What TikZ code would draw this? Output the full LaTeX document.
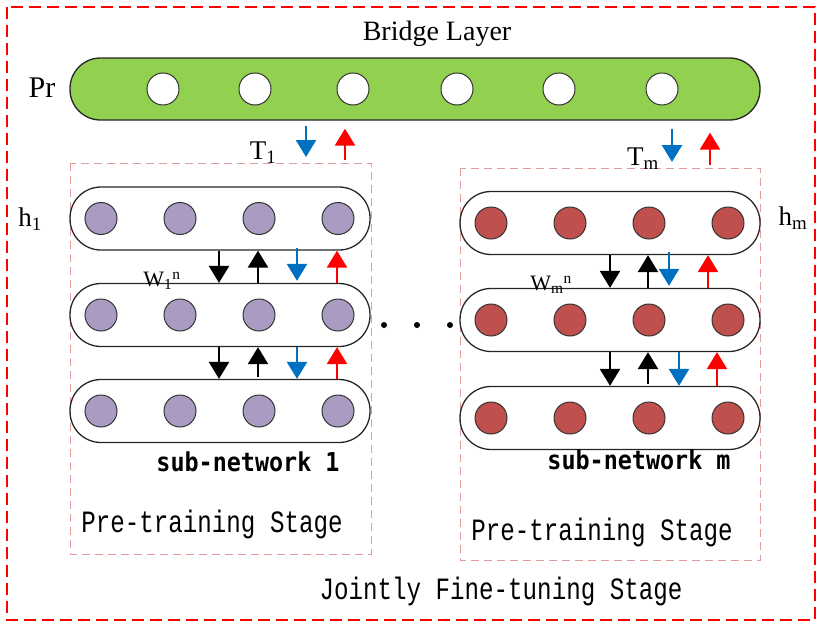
\documentclass[tikz,border=0pt]{standalone}
\usepackage{fontspec}
\setmainfont{Liberation Serif}
\newfontfamily\stagefont[FakeStretch=0.78]{Liberation Mono}
\newfontfamily\subnetfont[FakeStretch=0.9]{DejaVu Sans Mono}
\usetikzlibrary{arrows.meta,calc}
\definecolor{bridgegreen}{HTML}{92D050}
\definecolor{unitpurple}{HTML}{AA9BC2}
\definecolor{unitred}{HTML}{C0504D}
\definecolor{downblue}{HTML}{0070C0}
\definecolor{upred}{HTML}{FF0000}
\definecolor{stagepink}{HTML}{E39A9A}
\tikzset{
  capsule/.style={draw=black!85, line width=1.3pt, rounded corners=31pt,
    minimum width=300pt, minimum height=63pt, inner sep=0pt},
  bridgebar/.style={draw=black!85, line width=1.3pt, fill=bridgegreen,
    rounded corners=30.5pt, minimum width=690pt, minimum height=62pt, inner sep=0pt},
  unit/.style={circle, draw=black!80, line width=1pt, minimum size=32pt, inner sep=0pt},
  punit/.style={unit, fill=unitpurple},
  runit/.style={unit, fill=unitred},
  wunit/.style={unit, fill=white},
  arr/.style={line width=2.5pt, -{Triangle[width=20pt,length=17pt]}},
  blackarr/.style={arr, draw=black},
  bluearr/.style={arr, draw=downblue},
  redarr/.style={arr, draw=upred},
  stagebox/.style={draw=stagepink, line width=1pt, dash pattern=on 8pt off 5pt},
  outerbox/.style={draw=upred, line width=1.6pt, dash pattern=on 12pt off 6pt},
  lbl/.style={inner sep=0pt, font=\fontsize{27}{29}\selectfont},
  smalllbl/.style={inner sep=0pt, font=\fontsize{22}{24}\selectfont},
  stagetxt/.style={inner sep=0pt, font=\stagefont\fontsize{31}{33}\selectfont},
  subnettxt/.style={inner sep=0pt, font=\subnetfont\bfseries\fontsize{26}{28}\selectfont},
  dot/.style={circle, fill=black, minimum size=6pt, inner sep=0pt}
}
\begin{document}
\begin{tikzpicture}[x=1pt, y=-1pt]
\useasboundingbox (0,0) rectangle (819,624);

% outer jointly fine-tuning frame
\draw[outerbox] (7,7) rectangle (815,620);

% bridge layer
\node[inner sep=0pt, font=\fontsize{28}{30}\selectfont] (bridgetitle) at (437,34) {Bridge Layer};
\node[bridgebar] (B) at (415,89) {};
\node[inner sep=0pt, font=\fontsize{30}{32}\selectfont] (pr) at (42,88) {Pr};
\foreach \x [count=\i] in {163,255,353,457,559,662}
  \node[wunit] (b\i) at (\x,89) {};

% pre-training stage frames
\draw[stagebox] (70,163) rectangle (371,554);
\draw[stagebox] (460,168) rectangle (760,560);

% sub-network 1
\node[capsule] (L1) at (220,218.5) {};
\node[capsule] (L2) at (220,315) {};
\node[capsule] (L3) at (220,411) {};
\foreach \r/\y in {1/218.5,2/315,3/411}
  \foreach \x [count=\i] in {101,180,259,338}
    \node[punit] (L\r c\i) at (\x,\y) {};

% sub-network m
\node[capsule] (R1) at (610,223) {};
\node[capsule] (R2) at (610,320) {};
\node[capsule] (R3) at (610,418) {};
\foreach \r/\y in {1/223,2/320,3/418}
  \foreach \x [count=\i] in {491,570,649,728}
    \node[runit] (R\r c\i) at (\x,\y) {};

% columns of the arrows
\coordinate (ta) at (306,0);
\coordinate (tb) at (345,0);
\coordinate (tc) at (672,0);
\coordinate (td) at (710,0);
\coordinate (la) at (219,0);
\coordinate (lb) at (258,0);
\coordinate (lc) at (297,0);
\coordinate (ld) at (337,0);
\coordinate (ra) at (610,0);
\coordinate (rb) at (648,0);
\coordinate (rc) at (669,0);
\coordinate (rd) at (708,0);
\coordinate (re) at (679,0);
\coordinate (rf) at (717,0);
% levels where the bridge arrows end
\coordinate (lvA) at (0,157);
\coordinate (lvB) at (0,160);
\coordinate (lvC) at (0,162);
\coordinate (lvD) at (0,165);

% bridge <-> sub-networks
\draw[bluearr] ([yshift=-5pt]B.south -| ta) -- (ta |- lvA);
\draw[redarr] (tb |- lvB) -- ([yshift=-8pt]B.south -| tb);
\draw[bluearr] ([yshift=-8pt]B.south -| tc) -- (tc |- lvC);
\draw[redarr] (td |- lvD) -- ([yshift=-12pt]B.south -| td);

% inside sub-network 1
\draw[blackarr] (la |- L1.south) -- (la |- L2.north);
\draw[blackarr] (lb |- L2.north) -- (lb |- L1.south);
\draw[bluearr] ([yshift=3pt]lc |- L1.south) -- ([yshift=2pt]lc |- L2.north);
\draw[redarr] (ld |- L2.north) -- (ld |- L1.south);
\draw[blackarr] (la |- L2.south) -- (la |- L3.north);
\draw[blackarr] ([yshift=2pt]lb |- L3.north) -- (lb |- L2.south);
\draw[bluearr] (lc |- L2.south) -- (lc |- L3.north);
\draw[redarr] (ld |- L3.north) -- (ld |- L2.south);

% inside sub-network m
\draw[blackarr] (ra |- R1.south) -- (ra |- R2.north);
\draw[blackarr] (rb |- R2.north) -- (rb |- R1.south);
\draw[bluearr] ([yshift=3pt]rc |- R1.south) -- ([yshift=2pt]rc |- R2.north);
\draw[redarr] (rd |- R2.north) -- (rd |- R1.south);
\draw[blackarr] (ra |- R2.south) -- (ra |- R3.north);
\draw[blackarr] ([yshift=2pt]rb |- R3.north) -- (rb |- R2.south);
\draw[bluearr] (re |- R2.south) -- (re |- R3.north);
\draw[redarr] (rf |- R3.north) -- (rf |- R2.south);

% ellipsis between the sub-networks
\node[dot] (d1) at (384,325) {};
\node[dot] (d2) at (417,325) {};
\node[dot] (d3) at (450,325) {};

% labels
\node[lbl] (t1) at (263,153) {T\textsubscript{1}};
\node[lbl] (tm) at (643,159) {T\textsubscript{m}};
\node[lbl] (h1) at (30,219) {h\textsubscript{1}};
\node[lbl] (hm) at (793,218) {h\textsubscript{m}};
\node[smalllbl] (w1) at (162,281) {W\textsubscript{1}\textsuperscript{n}};
\node[smalllbl] (wm) at (551,285) {W\textsubscript{m}\textsuperscript{n}};
\node[subnettxt] (s1) at (248,462) {sub-network 1};
\node[subnettxt] (sm) at (639,460) {sub-network m};
\node[stagetxt] (p1) at (212,524) {Pre-training Stage};
\node[stagetxt] (pm) at (602,532) {Pre-training Stage};
\node[stagetxt] (jf) at (501,591) {Jointly Fine-tuning Stage};
\end{tikzpicture}
\end{document}
